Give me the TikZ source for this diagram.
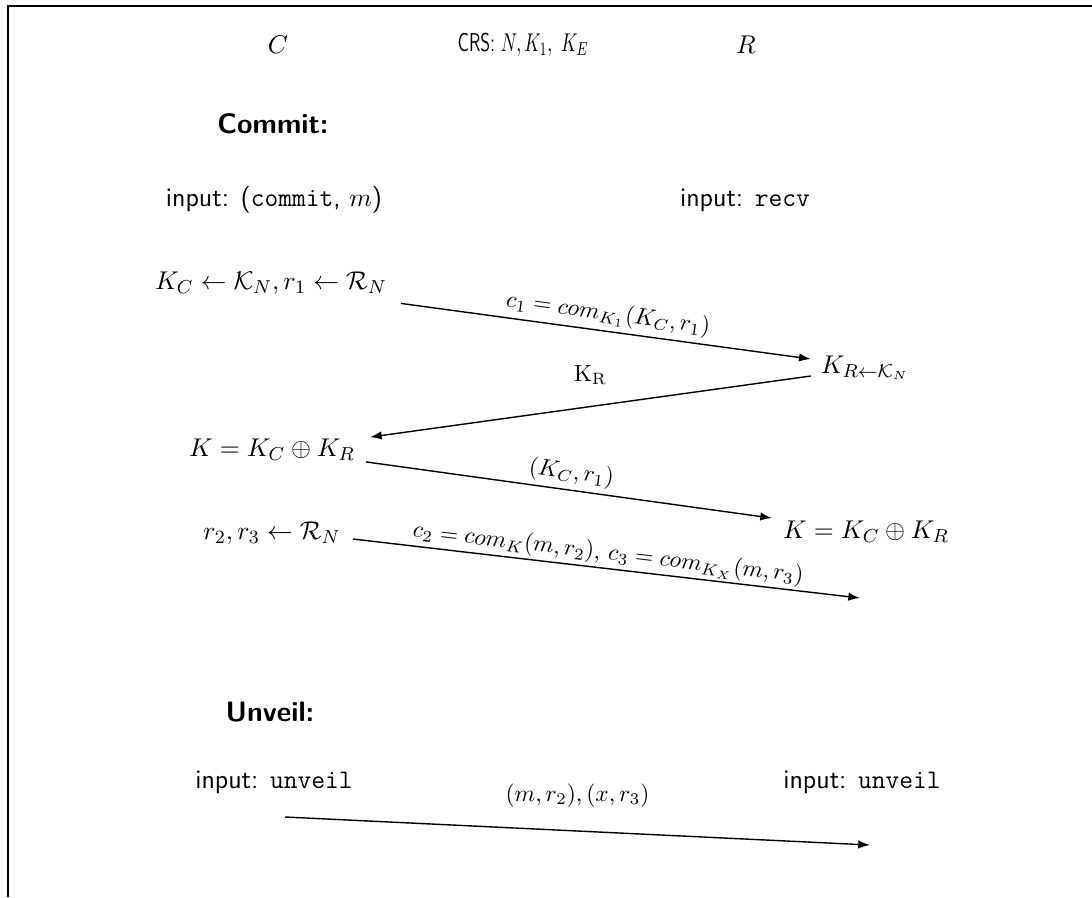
\documentclass[tikz,border=0pt]{standalone}
\usepackage{amsmath}
\usepackage{graphicx}
\usetikzlibrary{arrows.meta,calc}
\begin{document}
\begin{tikzpicture}[x=0.015cm,y=-0.015cm,
  every node/.style={font=\fontsize{11}{13}\selectfont, inner sep=2pt},
  sans/.style={font=\fontsize{11.4}{14}\selectfont\sffamily},
  crsstyle/.style={font=\fontsize{11}{13}\selectfont\sffamily},
  msg/.style={-{Latex[length=5pt,width=3.6pt]}, line width=0.6pt},
  lab/.style={font=\fontsize{10}{12}\selectfont, inner sep=2pt},
  headtxt/.style={font=\fontsize{12}{14}\selectfont\sffamily\bfseries},
  frameline/.style={line width=0.9pt}]
\useasboundingbox (0,0) rectangle (1092,897);
\coordinate (fb) at (8,897);
\coordinate (ftl) at (8,6);
\coordinate (ftr) at (1092,6);
\draw[frameline] (fb) -- (ftl) -- (ftr);

\node (C) at (278,45) {$C$};
\node[crsstyle] (crs) at (523,45) {\scalebox{0.7}[1]{CRS: $N, K_1,\ K_E$}};
\node (R) at (746,45) {$R$};

\node[headtxt] (commit) at (273,124) {Commit:};
\node[sans] (inC) at (274,200) {input: (\texttt{commit}, $m$)};
\node[sans] (inR) at (745,200) {input: \texttt{recv}};

\node (kc) at (271,283) {$K_C \leftarrow \mathcal{K}_N, r_1 \leftarrow \mathcal{R}_N$};
\node (kr) at (865,368) {$K_{R\leftarrow\mathcal{K}_N}$};
\node (kl) at (272,450) {$K = K_C \oplus K_R$};
\node (krr) at (866,532) {$K = K_C \oplus K_R$};
\node (r23) at (272,533) {$r_2, r_3 \leftarrow \mathcal{R}_N$};
\coordinate (e4) at (860,598);

\node[headtxt] (unveil) at (270,712) {Unveil:};
\node[sans] (uC) at (274,782) {input: \texttt{unveil}};
\node[sans] (uR) at (862,782) {input: \texttt{unveil}};
\coordinate (s5) at (285,817);
\coordinate (e5) at (870,845);

\draw[msg] ($(kc.south east)+(9,4)$) -- node[lab,above,sloped] {$c_1 = com_{K_1}(K_C, r_1)$} ($(kr.west)+(-5,-9)$);
\draw[msg] ($(kr.west)+(-5,8)$) -- node[lab,above=7pt] {$\mathrm{K}_\mathrm{R}$} ($(kl.north east)+(10,3)$);
\draw[msg] ($(kl.south east)+(6,-4)$) -- node[lab,above,sloped] {$(K_C, r_1)$} ($(krr.north west)+(-6,2)$);
\draw[msg] ($(r23.east)+(7,6)$) -- node[lab,above,sloped,inner sep=1pt] {$c_2 = com_K(m, r_2),\, c_3 = com_{K_X}(m, r_3)$} (e4);
\draw[msg] (s5) -- node[lab,above=8pt] {$(m, r_2), (x, r_3)$} (e5);
\end{tikzpicture}
\end{document}
